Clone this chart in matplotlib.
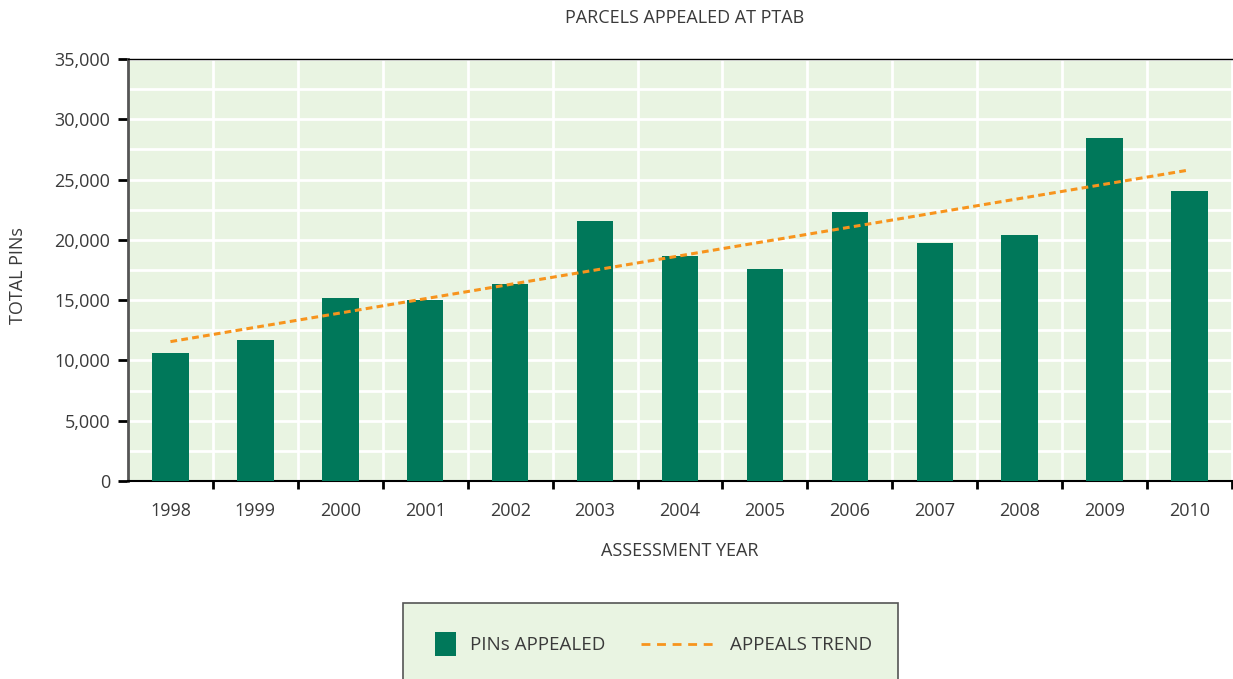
import numpy as np
import matplotlib
matplotlib.use("Agg")
import matplotlib.pyplot as plt
from matplotlib.patches import Rectangle
from matplotlib.lines import Line2D
from matplotlib.ticker import FuncFormatter, MultipleLocator

plt.rcParams['font.family'] = ['Open Sans', 'DejaVu Sans']

years = ['1998', '1999', '2000', '2001', '2002', '2003', '2004',
         '2005', '2006', '2007', '2008', '2009', '2010']
pins = [10580, 11690, 15160, 15000, 16300, 21600, 18700,
        17600, 22320, 19700, 20400, 28450, 24080]
trend_ends = [11560, 25800]  # at 1998 and 2010

green = '#00785a'
orange = '#f7941d'
bg = '#e9f4e2'
txt = '#3a3a3a'

fig = plt.figure(figsize=(12.33, 6.79), dpi=100)
W, H = 1233, 679
ax = fig.add_axes([128 / W, 1 - 481 / H, 1104 / W, 422 / H])
ax.set_facecolor(bg)

x = np.arange(len(years))
ax.bar(x, pins, width=0.43, color=green, zorder=3)
ax.plot([x[0], x[-1]], trend_ends, color=orange, lw=2.2,
        dashes=(2.2, 1.4), zorder=4)

ax.set_xlim(-0.5, len(years) - 0.5)
ax.set_ylim(0, 35000)

ax.yaxis.set_major_locator(MultipleLocator(5000))
ax.yaxis.set_minor_locator(MultipleLocator(2500))
ax.yaxis.set_major_formatter(FuncFormatter(lambda v, p: f'{int(v):,}'))
ax.grid(True, axis='y', which='both', color='white', lw=2, zorder=1)
ax.tick_params(axis='y', which='major', length=7, width=2, direction='out',
               pad=6, labelsize=13, labelcolor=txt, color='black')
ax.tick_params(axis='y', which='minor', length=0)

ax.set_xticks(x)
ax.set_xticklabels(years)
ax.set_xticks(np.arange(0.5, len(years) + 0.5, 1), minor=True)
ax.tick_params(axis='x', which='major', length=0, pad=15, labelsize=13,
               labelcolor=txt)
ax.tick_params(axis='x', which='minor', length=6, width=2, direction='out',
               color='black')
ax.grid(True, axis='x', which='minor', color='white', lw=2, zorder=1)

ax.spines['left'].set_color('#555555')
ax.spines['left'].set_linewidth(2)
ax.spines['bottom'].set_color('black')
ax.spines['bottom'].set_linewidth(1.5)
ax.spines['top'].set_color('black')
ax.spines['top'].set_linewidth(1)
ax.spines['right'].set_visible(False)
ax.set_axisbelow(True)

fig.text(685 / W, 1 - 18 / H, 'PARCELS APPEALED AT PTAB', ha='center',
         va='center', fontsize=13, color=txt)
fig.text(18 / W, 1 - 276 / H, 'TOTAL PINs', rotation=90, ha='center',
         va='center', fontsize=13, color=txt)
fig.text(680 / W, 1 - 551 / H, 'ASSESSMENT YEAR', ha='center',
         va='center', fontsize=13, color=txt)

# legend box, runs off the bottom edge
fig.patches.append(Rectangle((403 / W, -0.05), 495 / W, 1 - 603 / H + 0.05,
                             transform=fig.transFigure, facecolor=bg,
                             edgecolor='#555555', lw=1.2))
fig.patches.append(Rectangle((435 / W, 1 - 656 / H), 21 / W, 24 / H,
                             transform=fig.transFigure, facecolor=green,
                             edgecolor='none'))
fig.text(470 / W, 1 - 645 / H, 'PINs APPEALED', ha='left', va='center',
         fontsize=13.5, color=txt)
fig.lines.append(Line2D([641 / W, 717 / W], [1 - 644 / H, 1 - 644 / H],
                        transform=fig.transFigure, color=orange, lw=2,
                        dashes=(3.2, 2.4)))
fig.text(730 / W, 1 - 645 / H, 'APPEALS TREND', ha='left', va='center',
         fontsize=13.5, color=txt)

fig.savefig('out.png', dpi=100)
